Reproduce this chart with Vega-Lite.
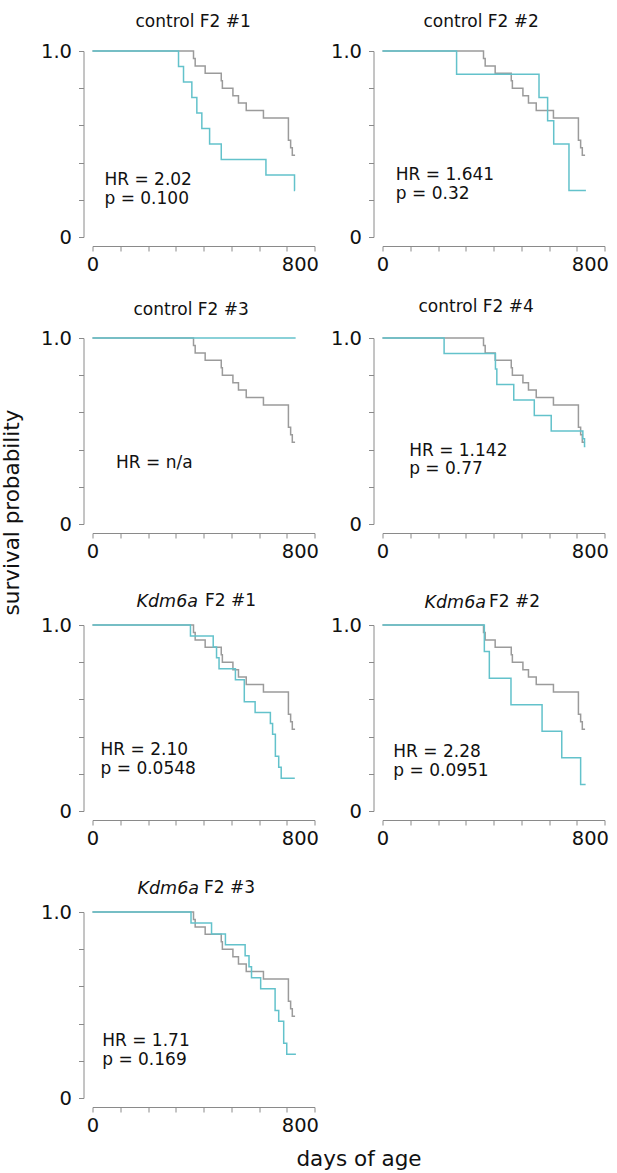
{
  "$schema": "https://vega.github.io/schema/vega-lite/v6.json",
  "background": "white",
  "padding": {"left": 1.5, "top": 12, "right": 0, "bottom": 2},
  "datasets": {
    "reference": [
      {"day": 0, "surv": 1}, {"day": 364, "surv": 0.96}, {"day": 370, "surv": 0.92},
      {"day": 406, "surv": 0.88}, {"day": 464, "surv": 0.84}, {"day": 468, "surv": 0.8},
      {"day": 506, "surv": 0.76}, {"day": 526, "surv": 0.72}, {"day": 554, "surv": 0.68},
      {"day": 616, "surv": 0.64}, {"day": 706, "surv": 0.52}, {"day": 714, "surv": 0.48},
      {"day": 720, "surv": 0.44}, {"day": 730, "surv": 0.44}
    ],
    "cohorts": [
      {"panel": "control F2 #1", "day": 0, "surv": 1}, {"panel": "control F2 #1", "day": 310, "surv": 0.917},
      {"panel": "control F2 #1", "day": 328, "surv": 0.833}, {"panel": "control F2 #1", "day": 358, "surv": 0.75},
      {"panel": "control F2 #1", "day": 376, "surv": 0.667}, {"panel": "control F2 #1", "day": 394, "surv": 0.583},
      {"panel": "control F2 #1", "day": 422, "surv": 0.5}, {"panel": "control F2 #1", "day": 464, "surv": 0.417},
      {"panel": "control F2 #1", "day": 625, "surv": 0.333}, {"panel": "control F2 #1", "day": 728, "surv": 0.25},
      {"panel": "control F2 #1", "day": 730, "surv": 0.25},

      {"panel": "control F2 #2", "day": 0, "surv": 1}, {"panel": "control F2 #2", "day": 267, "surv": 0.875},
      {"panel": "control F2 #2", "day": 564, "surv": 0.75}, {"panel": "control F2 #2", "day": 595, "surv": 0.625},
      {"panel": "control F2 #2", "day": 617, "surv": 0.5}, {"panel": "control F2 #2", "day": 672, "surv": 0.25},
      {"panel": "control F2 #2", "day": 733, "surv": 0.25},

      {"panel": "control F2 #3", "day": 0, "surv": 1}, {"panel": "control F2 #3", "day": 732, "surv": 1},

      {"panel": "control F2 #4", "day": 0, "surv": 1}, {"panel": "control F2 #4", "day": 222, "surv": 0.917},
      {"panel": "control F2 #4", "day": 407, "surv": 0.833}, {"panel": "control F2 #4", "day": 412, "surv": 0.75},
      {"panel": "control F2 #4", "day": 473, "surv": 0.667}, {"panel": "control F2 #4", "day": 547, "surv": 0.583},
      {"panel": "control F2 #4", "day": 608, "surv": 0.5}, {"panel": "control F2 #4", "day": 722, "surv": 0.458},
      {"panel": "control F2 #4", "day": 728, "surv": 0.417}, {"panel": "control F2 #4", "day": 731, "surv": 0.417},

      {"panel": "Kdm6a F2 #1", "day": 0, "surv": 1}, {"panel": "Kdm6a F2 #1", "day": 353, "surv": 0.941},
      {"panel": "Kdm6a F2 #1", "day": 435, "surv": 0.882}, {"panel": "Kdm6a F2 #1", "day": 447, "surv": 0.824},
      {"panel": "Kdm6a F2 #1", "day": 456, "surv": 0.765}, {"panel": "Kdm6a F2 #1", "day": 515, "surv": 0.706},
      {"panel": "Kdm6a F2 #1", "day": 547, "surv": 0.588}, {"panel": "Kdm6a F2 #1", "day": 586, "surv": 0.529},
      {"panel": "Kdm6a F2 #1", "day": 641, "surv": 0.471}, {"panel": "Kdm6a F2 #1", "day": 649, "surv": 0.412},
      {"panel": "Kdm6a F2 #1", "day": 659, "surv": 0.294}, {"panel": "Kdm6a F2 #1", "day": 671, "surv": 0.235},
      {"panel": "Kdm6a F2 #1", "day": 680, "surv": 0.176}, {"panel": "Kdm6a F2 #1", "day": 729, "surv": 0.176},

      {"panel": "Kdm6a F2 #2", "day": 0, "surv": 1}, {"panel": "Kdm6a F2 #2", "day": 367, "surv": 0.857},
      {"panel": "Kdm6a F2 #2", "day": 385, "surv": 0.714}, {"panel": "Kdm6a F2 #2", "day": 463, "surv": 0.571},
      {"panel": "Kdm6a F2 #2", "day": 575, "surv": 0.429}, {"panel": "Kdm6a F2 #2", "day": 646, "surv": 0.286},
      {"panel": "Kdm6a F2 #2", "day": 714, "surv": 0.143}, {"panel": "Kdm6a F2 #2", "day": 732, "surv": 0.143},

      {"panel": "Kdm6a F2 #3", "day": 0, "surv": 1}, {"panel": "Kdm6a F2 #3", "day": 355, "surv": 0.941},
      {"panel": "Kdm6a F2 #3", "day": 429, "surv": 0.882}, {"panel": "Kdm6a F2 #3", "day": 479, "surv": 0.824},
      {"panel": "Kdm6a F2 #3", "day": 550, "surv": 0.765}, {"panel": "Kdm6a F2 #3", "day": 564, "surv": 0.706},
      {"panel": "Kdm6a F2 #3", "day": 573, "surv": 0.647}, {"panel": "Kdm6a F2 #3", "day": 606, "surv": 0.588},
      {"panel": "Kdm6a F2 #3", "day": 658, "surv": 0.471}, {"panel": "Kdm6a F2 #3", "day": 671, "surv": 0.412},
      {"panel": "Kdm6a F2 #3", "day": 689, "surv": 0.294}, {"panel": "Kdm6a F2 #3", "day": 700, "surv": 0.235},
      {"panel": "Kdm6a F2 #3", "day": 733, "surv": 0.235}
    ],
    "stats": [
      {"panel": "control F2 #1", "note": "HR = 2.02\np = 0.100"},
      {"panel": "control F2 #2", "note": "HR = 1.641\np = 0.32"},
      {"panel": "control F2 #3", "note": "HR = n/a"},
      {"panel": "control F2 #4", "note": "HR = 1.142\np = 0.77"},
      {"panel": "Kdm6a F2 #1", "note": "HR = 2.10\np = 0.0548"},
      {"panel": "Kdm6a F2 #2", "note": "HR = 2.28\np = 0.0951"},
      {"panel": "Kdm6a F2 #3", "note": "HR = 1.71\np = 0.169"}
    ]
  },
  "columns": 2,
  "bounds": "flush",
  "spacing": {"row": 101, "column": 68},
  "concat": [
    {
      "width": 222, "height": 186,
      "title": {"text": "control F2 #1", "dx": 43, "offset": 10.5},
      "layer": [
        {"data": {"name": "reference"}, "mark": {"type": "line", "interpolate": "step-after", "color": "#9b9b9b", "strokeWidth": 1.5},
         "encoding": {
           "x": {"field": "day", "type": "quantitative", "scale": {"domain": [0, 800], "nice": false},
                 "axis": {"offset": 9, "values": [0, 100, 200, 300, 400, 500, 600, 700, 800], "tickCount": 9, "labelFlush": false,
                          "labelExpr": "datum.value == 0 || datum.value == 800 ? datum.label : ''",
                          "labelAlign": {"condition": {"test": "datum.value == 800", "value": "right"}, "value": "center"},
                          "labelOffset": {"condition": {"test": "datum.value == 800", "value": 4}, "value": 0}, "title": null}},
           "y": {"field": "surv", "type": "quantitative", "scale": {"domain": [0, 1], "nice": false},
                 "axis": {"offset": 9, "values": [0, 0.2, 0.4, 0.6, 0.8, 1], "tickCount": 6,
                          "labelExpr": "datum.value == 1 ? '1.0' : datum.value == 0 ? '0' : ''", "title": null}}
         }},
        {"data": {"name": "cohorts"}, "transform": [{"filter": "datum.panel === 'control F2 #1'"}],
         "mark": {"type": "line", "interpolate": "step-after", "color": "#63c2cb", "strokeWidth": 1.5},
         "encoding": {"x": {"field": "day", "type": "quantitative"}, "y": {"field": "surv", "type": "quantitative"}}},
        {"data": {"name": "stats"}, "transform": [{"filter": "datum.panel === 'control F2 #1'"}],
         "mark": {"type": "text", "align": "left", "baseline": "alphabetic", "fontSize": 17, "lineBreak": "\n", "lineHeight": 18.5, "color": "#111"},
         "encoding": {"x": {"datum": 43}, "y": {"datum": 0.277}, "text": {"field": "note"}}}
      ]
    },
    {
      "width": 222, "height": 186,
      "title": {"text": "control F2 #2", "dx": 41, "offset": 10.5},
      "layer": [
        {"data": {"name": "reference"}, "mark": {"type": "line", "interpolate": "step-after", "color": "#9b9b9b", "strokeWidth": 1.5},
         "encoding": {
           "x": {"field": "day", "type": "quantitative", "scale": {"domain": [0, 800], "nice": false},
                 "axis": {"offset": 9, "values": [0, 100, 200, 300, 400, 500, 600, 700, 800], "tickCount": 9, "labelFlush": false,
                          "labelExpr": "datum.value == 0 || datum.value == 800 ? datum.label : ''",
                          "labelAlign": {"condition": {"test": "datum.value == 800", "value": "right"}, "value": "center"},
                          "labelOffset": {"condition": {"test": "datum.value == 800", "value": 4}, "value": 0}, "title": null}},
           "y": {"field": "surv", "type": "quantitative", "scale": {"domain": [0, 1], "nice": false},
                 "axis": {"offset": 9, "values": [0, 0.2, 0.4, 0.6, 0.8, 1], "tickCount": 6,
                          "labelExpr": "datum.value == 1 ? '1.0' : datum.value == 0 ? '0' : ''", "title": null}}
         }},
        {"data": {"name": "cohorts"}, "transform": [{"filter": "datum.panel === 'control F2 #2'"}],
         "mark": {"type": "line", "interpolate": "step-after", "color": "#63c2cb", "strokeWidth": 1.5},
         "encoding": {"x": {"field": "day", "type": "quantitative"}, "y": {"field": "surv", "type": "quantitative"}}},
        {"data": {"name": "stats"}, "transform": [{"filter": "datum.panel === 'control F2 #2'"}],
         "mark": {"type": "text", "align": "left", "baseline": "alphabetic", "fontSize": 17, "lineBreak": "\n", "lineHeight": 18.5, "color": "#111"},
         "encoding": {"x": {"datum": 48}, "y": {"datum": 0.304}, "text": {"field": "note"}}}
      ]
    },
    {
      "width": 222, "height": 186,
      "title": {"text": "control F2 #3", "dx": 41, "offset": 9.5},
      "layer": [
        {"data": {"name": "reference"}, "mark": {"type": "line", "interpolate": "step-after", "color": "#9b9b9b", "strokeWidth": 1.5},
         "encoding": {
           "x": {"field": "day", "type": "quantitative", "scale": {"domain": [0, 800], "nice": false},
                 "axis": {"offset": 9, "values": [0, 100, 200, 300, 400, 500, 600, 700, 800], "tickCount": 9, "labelFlush": false,
                          "labelExpr": "datum.value == 0 || datum.value == 800 ? datum.label : ''",
                          "labelAlign": {"condition": {"test": "datum.value == 800", "value": "right"}, "value": "center"},
                          "labelOffset": {"condition": {"test": "datum.value == 800", "value": 4}, "value": 0}, "title": null}},
           "y": {"field": "surv", "type": "quantitative", "scale": {"domain": [0, 1], "nice": false},
                 "axis": {"offset": 9, "values": [0, 0.2, 0.4, 0.6, 0.8, 1], "tickCount": 6,
                          "labelExpr": "datum.value == 1 ? '1.0' : datum.value == 0 ? '0' : ''",
                          "title": "survival probability", "titleX": -60, "titleY": 174, "titleAngle": 270,
                          "titleAlign": "center", "titleBaseline": "bottom", "titleFontSize": 21.5}}
         }},
        {"data": {"name": "cohorts"}, "transform": [{"filter": "datum.panel === 'control F2 #3'"}],
         "mark": {"type": "line", "interpolate": "step-after", "color": "#63c2cb", "strokeWidth": 1.5},
         "encoding": {"x": {"field": "day", "type": "quantitative"}, "y": {"field": "surv", "type": "quantitative"}}},
        {"data": {"name": "stats"}, "transform": [{"filter": "datum.panel === 'control F2 #3'"}],
         "mark": {"type": "text", "align": "left", "baseline": "alphabetic", "fontSize": 17, "lineBreak": "\n", "lineHeight": 18.5, "color": "#111"},
         "encoding": {"x": {"datum": 85}, "y": {"datum": 0.3}, "text": {"field": "note"}}}
      ]
    },
    {
      "width": 222, "height": 186,
      "title": {"text": "control F2 #4", "dx": 36, "offset": 12.5},
      "layer": [
        {"data": {"name": "reference"}, "mark": {"type": "line", "interpolate": "step-after", "color": "#9b9b9b", "strokeWidth": 1.5},
         "encoding": {
           "x": {"field": "day", "type": "quantitative", "scale": {"domain": [0, 800], "nice": false},
                 "axis": {"offset": 9, "values": [0, 100, 200, 300, 400, 500, 600, 700, 800], "tickCount": 9, "labelFlush": false,
                          "labelExpr": "datum.value == 0 || datum.value == 800 ? datum.label : ''",
                          "labelAlign": {"condition": {"test": "datum.value == 800", "value": "right"}, "value": "center"},
                          "labelOffset": {"condition": {"test": "datum.value == 800", "value": 4}, "value": 0}, "title": null}},
           "y": {"field": "surv", "type": "quantitative", "scale": {"domain": [0, 1], "nice": false},
                 "axis": {"offset": 9, "values": [0, 0.2, 0.4, 0.6, 0.8, 1], "tickCount": 6,
                          "labelExpr": "datum.value == 1 ? '1.0' : datum.value == 0 ? '0' : ''", "title": null}}
         }},
        {"data": {"name": "cohorts"}, "transform": [{"filter": "datum.panel === 'control F2 #4'"}],
         "mark": {"type": "line", "interpolate": "step-after", "color": "#63c2cb", "strokeWidth": 1.5},
         "encoding": {"x": {"field": "day", "type": "quantitative"}, "y": {"field": "surv", "type": "quantitative"}}},
        {"data": {"name": "stats"}, "transform": [{"filter": "datum.panel === 'control F2 #4'"}],
         "mark": {"type": "text", "align": "left", "baseline": "alphabetic", "fontSize": 17, "lineBreak": "\n", "lineHeight": 18.5, "color": "#111"},
         "encoding": {"x": {"datum": 96}, "y": {"datum": 0.368}, "text": {"field": "note"}}}
      ]
    },
    {
      "width": 222, "height": 186,
      "title": {"text": "Kdm6a", "fontStyle": "italic", "fontSize": 17.5, "dx": 44, "offset": -19},
      "layer": [
        {"data": {"name": "reference"}, "mark": {"type": "line", "interpolate": "step-after", "color": "#9b9b9b", "strokeWidth": 1.5},
         "encoding": {
           "x": {"field": "day", "type": "quantitative", "scale": {"domain": [0, 800], "nice": false},
                 "axis": {"offset": 9, "values": [0, 100, 200, 300, 400, 500, 600, 700, 800], "tickCount": 9, "labelFlush": false,
                          "labelExpr": "datum.value == 0 || datum.value == 800 ? datum.label : ''",
                          "labelAlign": {"condition": {"test": "datum.value == 800", "value": "right"}, "value": "center"},
                          "labelOffset": {"condition": {"test": "datum.value == 800", "value": 4}, "value": 0}, "title": null}},
           "y": {"field": "surv", "type": "quantitative", "scale": {"domain": [0, 1], "nice": false},
                 "axis": {"offset": 9, "values": [0, 0.2, 0.4, 0.6, 0.8, 1], "tickCount": 6,
                          "labelExpr": "datum.value == 1 ? '1.0' : datum.value == 0 ? '0' : ''",
                          "title": "F2 #1", "titleX": 121, "titleY": -20, "titleAngle": 0,
                          "titleAlign": "left", "titleBaseline": "alphabetic", "titleFontSize": 17}}
         }},
        {"data": {"name": "cohorts"}, "transform": [{"filter": "datum.panel === 'Kdm6a F2 #1'"}],
         "mark": {"type": "line", "interpolate": "step-after", "color": "#63c2cb", "strokeWidth": 1.5},
         "encoding": {"x": {"field": "day", "type": "quantitative"}, "y": {"field": "surv", "type": "quantitative"}}},
        {"data": {"name": "stats"}, "transform": [{"filter": "datum.panel === 'Kdm6a F2 #1'"}],
         "mark": {"type": "text", "align": "left", "baseline": "alphabetic", "fontSize": 17, "lineBreak": "\n", "lineHeight": 18.5, "color": "#111"},
         "encoding": {"x": {"datum": 29}, "y": {"datum": 0.3}, "text": {"field": "note"}}}
      ]
    },
    {
      "width": 222, "height": 186,
      "title": {"text": "Kdm6a", "fontStyle": "italic", "fontSize": 17.5, "dx": 42, "offset": -19},
      "layer": [
        {"data": {"name": "reference"}, "mark": {"type": "line", "interpolate": "step-after", "color": "#9b9b9b", "strokeWidth": 1.5},
         "encoding": {
           "x": {"field": "day", "type": "quantitative", "scale": {"domain": [0, 800], "nice": false},
                 "axis": {"offset": 9, "values": [0, 100, 200, 300, 400, 500, 600, 700, 800], "tickCount": 9, "labelFlush": false,
                          "labelExpr": "datum.value == 0 || datum.value == 800 ? datum.label : ''",
                          "labelAlign": {"condition": {"test": "datum.value == 800", "value": "right"}, "value": "center"},
                          "labelOffset": {"condition": {"test": "datum.value == 800", "value": 4}, "value": 0}, "title": null}},
           "y": {"field": "surv", "type": "quantitative", "scale": {"domain": [0, 1], "nice": false},
                 "axis": {"offset": 9, "values": [0, 0.2, 0.4, 0.6, 0.8, 1], "tickCount": 6,
                          "labelExpr": "datum.value == 1 ? '1.0' : datum.value == 0 ? '0' : ''",
                          "title": "F2 #2", "titleX": 115, "titleY": -19, "titleAngle": 0,
                          "titleAlign": "left", "titleBaseline": "alphabetic", "titleFontSize": 17}}
         }},
        {"data": {"name": "cohorts"}, "transform": [{"filter": "datum.panel === 'Kdm6a F2 #2'"}],
         "mark": {"type": "line", "interpolate": "step-after", "color": "#63c2cb", "strokeWidth": 1.5},
         "encoding": {"x": {"field": "day", "type": "quantitative"}, "y": {"field": "surv", "type": "quantitative"}}},
        {"data": {"name": "stats"}, "transform": [{"filter": "datum.panel === 'Kdm6a F2 #2'"}],
         "mark": {"type": "text", "align": "left", "baseline": "alphabetic", "fontSize": 17, "lineBreak": "\n", "lineHeight": 18.5, "color": "#111"},
         "encoding": {"x": {"datum": 39}, "y": {"datum": 0.29}, "text": {"field": "note"}}}
      ]
    },
    {
      "width": 222, "height": 186,
      "title": {"text": "Kdm6a", "fontStyle": "italic", "fontSize": 17.5, "dx": 45, "offset": -19},
      "layer": [
        {"data": {"name": "reference"}, "mark": {"type": "line", "interpolate": "step-after", "color": "#9b9b9b", "strokeWidth": 1.5},
         "encoding": {
           "x": {"field": "day", "type": "quantitative", "scale": {"domain": [0, 800], "nice": false},
                 "axis": {"offset": 9, "values": [0, 100, 200, 300, 400, 500, 600, 700, 800], "tickCount": 9, "labelFlush": false,
                          "labelExpr": "datum.value == 0 || datum.value == 800 ? datum.label : ''",
                          "labelAlign": {"condition": {"test": "datum.value == 800", "value": "right"}, "value": "center"},
                          "labelOffset": {"condition": {"test": "datum.value == 800", "value": 4}, "value": 0},
                          "title": "days of age", "titleX": 266, "titleY": 63.5, "titleAngle": 0,
                          "titleAlign": "center", "titleBaseline": "bottom", "titleFontSize": 21.5}},
           "y": {"field": "surv", "type": "quantitative", "scale": {"domain": [0, 1], "nice": false},
                 "axis": {"offset": 9, "values": [0, 0.2, 0.4, 0.6, 0.8, 1], "tickCount": 6,
                          "labelExpr": "datum.value == 1 ? '1.0' : datum.value == 0 ? '0' : ''",
                          "title": "F2 #3", "titleX": 120, "titleY": -20, "titleAngle": 0,
                          "titleAlign": "left", "titleBaseline": "alphabetic", "titleFontSize": 17}}
         }},
        {"data": {"name": "cohorts"}, "transform": [{"filter": "datum.panel === 'Kdm6a F2 #3'"}],
         "mark": {"type": "line", "interpolate": "step-after", "color": "#63c2cb", "strokeWidth": 1.5},
         "encoding": {"x": {"field": "day", "type": "quantitative"}, "y": {"field": "surv", "type": "quantitative"}}},
        {"data": {"name": "stats"}, "transform": [{"filter": "datum.panel === 'Kdm6a F2 #3'"}],
         "mark": {"type": "text", "align": "left", "baseline": "alphabetic", "fontSize": 17, "lineBreak": "\n", "lineHeight": 18.5, "color": "#111"},
         "encoding": {"x": {"datum": 35}, "y": {"datum": 0.278}, "text": {"field": "note"}}}
      ]
    }
  ],
  "config": {
    "view": {"stroke": null},
    "font": "DejaVu Sans",
    "title": {"font": "DejaVu Sans", "fontSize": 17, "fontWeight": "normal", "color": "#111", "baseline": "alphabetic", "anchor": "start", "frame": "group"},
    "axis": {"labelFont": "DejaVu Sans", "labelFontSize": 19.5, "labelColor": "#111", "domainColor": "#8a8a8a", "tickColor": "#8a8a8a",
             "tickSize": 5, "grid": false, "titleFont": "DejaVu Sans", "titleFontWeight": "normal", "titleColor": "#111"},
    "axisX": {"labelPadding": 4},
    "axisY": {"labelPadding": 7},
    "text": {"font": "DejaVu Sans"}
  }
}
